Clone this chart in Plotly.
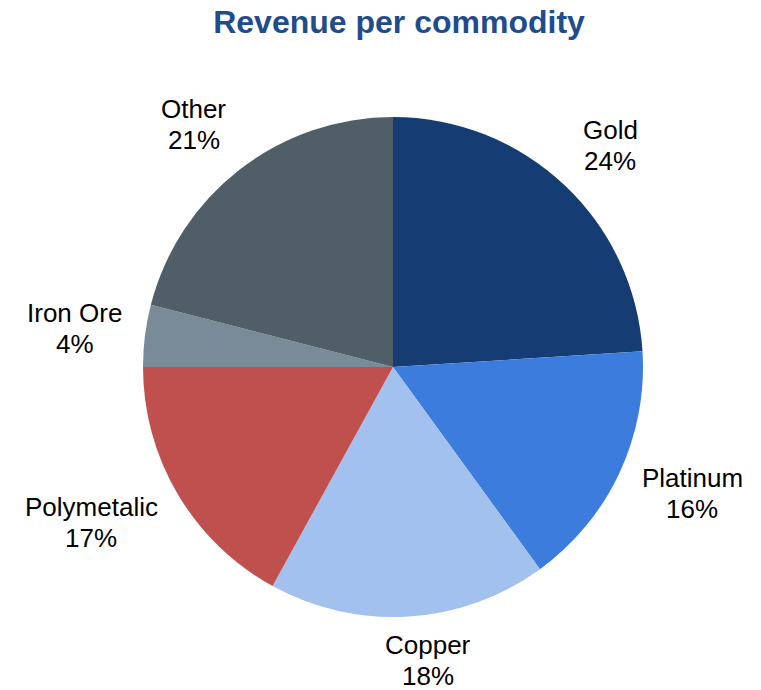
import math
import plotly.graph_objects as go

# Revenue share by commodity (%)
commodities = ["Gold", "Platinum", "Copper", "Polymetalic", "Iron Ore", "Other"]
shares = [24, 16, 18, 17, 4, 21]

colors = ["#163C74", "#3B7CDC", "#A2C1EE", "#C0504D", "#798B98", "#4F5E67"]
# distance (px) from the pie centre to each outside label, plus a small pixel nudge
label_dist = [310, 323, 295, 339, 333, 314]
label_nudge = [(5, 4), (7, -11), (16, -1), (-10, -17), (12, 3), (-7, 6)]

W, H = 761, 690
cx, cy, R = 393, 367, 250  # pie centre and radius in pixels
LINE = 31                  # label line spacing in pixels
FONT = dict(family="Liberation Sans, Arial, sans-serif", size=26, color="#000000")

fig = go.Figure(
    go.Pie(
        labels=commodities,
        values=shares,
        sort=False,
        direction="clockwise",
        rotation=0,
        marker=dict(colors=colors, line=dict(width=0)),
        textinfo="none",
        hoverinfo="label+percent",
        domain=dict(x=[(cx - R) / W, (cx + R) / W], y=[1 - (cy + R) / H, 1 - (cy - R) / H]),
    )
)

# outside labels placed along each slice's mid angle (name line above, percent below)
total = sum(shares)
cum = 0
annotations = []
for name, v, d, (nx, ny) in zip(commodities, shares, label_dist, label_nudge):
    mid = (cum + v / 2) / total * 2 * math.pi
    cum += v
    px = cx + d * math.sin(mid) + nx
    py = cy - d * math.cos(mid) + ny
    for txt, dy in ((name, -LINE / 2), (f"{v}%", LINE / 2)):
        annotations.append(
            dict(
                x=px / W, y=1 - (py + dy) / H, xref="paper", yref="paper",
                text=txt, showarrow=False,
                xanchor="center", yanchor="middle", align="center",
                font=FONT,
            )
        )

fig.update_layout(
    width=W, height=H,
    margin=dict(l=0, r=0, t=0, b=0),
    paper_bgcolor="white", plot_bgcolor="white",
    showlegend=False,
    title=dict(
        text="<b>Revenue per commodity</b>",
        x=399 / W, xanchor="center", y=1 - 22 / H, yanchor="middle",
        font=dict(family="Liberation Sans, Arial, sans-serif", size=32, color="#1F4C8B"),
    ),
    annotations=annotations,
)

fig.write_html("out.html")
